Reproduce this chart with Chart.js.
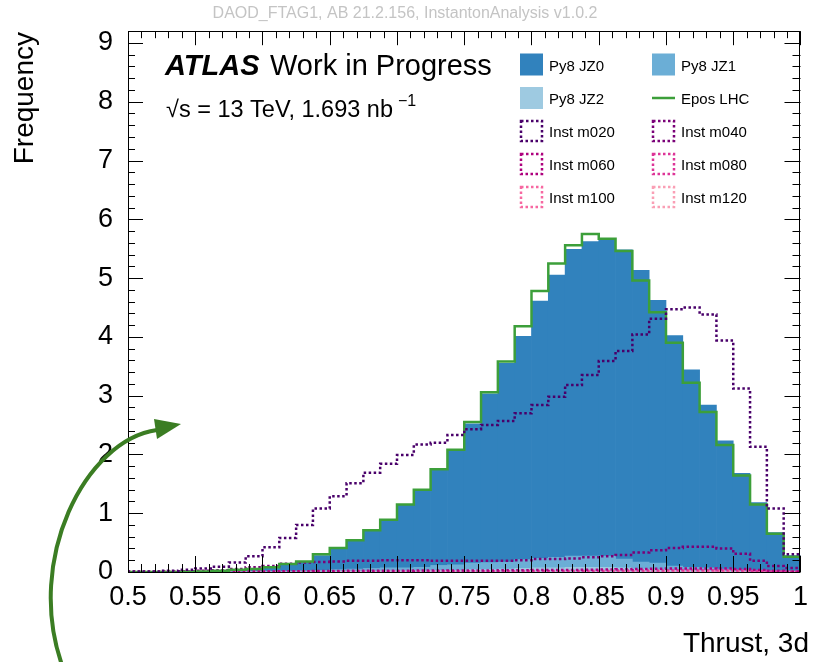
<!DOCTYPE html>
<html>
<head>
<meta charset="utf-8">
<title>Thrust, 3d</title>
<script src="https://cdn.jsdelivr.net/npm/chart.js@4.4.1/dist/chart.umd.min.js"></script>
<style>
html,body{margin:0;padding:0;background:#fff;}
#wrap{width:817px;height:662px;}
</style>
</head>
<body>
<div id="wrap"><canvas id="thrustChart" width="817" height="662"></canvas></div>
<script>

/* ============================= */
/* DATA */
/* ============================= */

const binWidth = 0.0125
const binEdges = Array.from({length:41},(_,i)=>+(0.5+i*binWidth).toFixed(4))

const xTickValues = [0.5,0.55,0.6,0.65,0.7,0.75,0.8,0.85,0.9,0.95,1]
const xTickLabels = ["0.5","0.55","0.6","0.65","0.7","0.75","0.8","0.85","0.9","0.95","1"]
const yTickValues = [0,1,2,3,4,5,6,7,8,9]

const py8JZ0 = [0,0,0,0.005,0.01,0.02,0.025,0.04,0.06,0.12,
0.15,0.25,0.36,0.48,0.64,0.81,1.07,1.31,1.62,1.94,
2.37,2.87,3.38,3.80,4.38,4.80,5.22,5.35,5.39,5.26,
4.96,4.47,3.92,3.36,2.77,2.18,1.65,1.16,0.66,0.27]

const py8JZ1 = [0,0,0,0,0,0,0.005,0.01,0.01,0.01,
0.02,0.03,0.03,0.04,0.05,0.05,0.05,0.06,0.08,0.09,
0.11,0.12,0.12,0.15,0.16,0.18,0.19,0.19,0.19,0.15,
0.12,0.11,0.07,0.06,0.05,0.04,0.02,0.01,0.01,0.01]

const py8JZ2 = [0,0,0,0,0,0,0,0,0,0,
0,0,0.01,0.01,0.01,0.02,0.02,0.02,0.03,0.03,
0.04,0.04,0.05,0.06,0.07,0.07,0.08,0.08,0.08,0.07,
0.05,0.04,0.03,0.02,0.02,0.01,0.01,0.01,0,0]

const eposLHC = [0,0,0,0.005,0.01,0.02,0.04,0.05,0.08,0.135,
0.18,0.30,0.41,0.54,0.71,0.89,1.15,1.40,1.75,2.08,
2.55,3.06,3.58,4.18,4.78,5.25,5.56,5.75,5.67,5.46,
4.96,4.42,3.90,3.22,2.72,2.16,1.64,1.15,0.65,0.26]

const instM020 = [0.01,0.01,0.02,0.04,0.06,0.09,0.16,0.27,0.42,0.58,
0.80,1.08,1.29,1.51,1.69,1.84,1.99,2.17,2.20,2.33,
2.43,2.50,2.57,2.70,2.84,2.98,3.18,3.35,3.59,3.76,
4.04,4.31,4.47,4.50,4.38,3.94,3.12,2.13,1.08,0.30]

const instM040 = [0,0,0.005,0.01,0.02,0.03,0.05,0.08,0.10,0.14,
0.16,0.17,0.18,0.19,0.19,0.20,0.20,0.20,0.19,0.19,
0.19,0.19,0.19,0.20,0.22,0.22,0.23,0.25,0.27,0.29,
0.33,0.37,0.41,0.43,0.43,0.40,0.31,0.19,0.10,0.07]

const instM060 = [0,0,0,0,0.002,0.004,0.006,0.008,0.01,0.012,
0.014,0.016,0.018,0.02,0.02,0.022,0.022,0.024,0.024,0.025,
0.026,0.027,0.028,0.03,0.032,0.034,0.036,0.04,0.043,0.047,
0.05,0.054,0.058,0.06,0.06,0.058,0.05,0.035,0.02,0.01]

const instM080 = [0,0,0,0,0,0.002,0.003,0.004,0.005,0.006,
0.007,0.008,0.009,0.01,0.01,0.011,0.011,0.012,0.012,0.013,
0.013,0.014,0.014,0.015,0.016,0.017,0.018,0.02,0.022,0.024,
0.025,0.027,0.029,0.03,0.03,0.029,0.025,0.018,0.01,0.005]

const instM100 = [0,0,0,0,0,0,0.001,0.002,0.002,0.003,
0.003,0.004,0.004,0.005,0.005,0.005,0.006,0.006,0.006,0.006,
0.007,0.007,0.007,0.008,0.008,0.008,0.009,0.01,0.011,0.012,
0.012,0.013,0.014,0.015,0.015,0.014,0.012,0.009,0.005,0.002]

const instM120 = [0,0,0,0,0,0,0,0.001,0.001,0.001,
0.002,0.002,0.002,0.002,0.003,0.003,0.003,0.003,0.003,0.003,
0.003,0.004,0.004,0.004,0.004,0.004,0.005,0.005,0.005,0.006,
0.006,0.006,0.007,0.007,0.007,0.007,0.006,0.004,0.002,0.001]

const FONT = '"Liberation Sans", Arial, Helvetica, sans-serif'

const colJZ0 = "#3182bd"
const colJZ1 = "#6baed6"
const colJZ2 = "#9ecae1"
const colEpos = "#3c9f3a"
const colInst = ["#49006a","#7a0177","#ae017e","#dd3497","#f768a1","#fa9fb5"]


/* ============================= */
/* HELPERS */
/* ============================= */

// bars sit on bin centres
function barPoints(vals){
return vals.map((v,i)=>({x:binEdges[i]+binWidth/2,y:v}))
}

// step outline: one point per low edge, closed at x=1
function stepPoints(vals){
const pts=[{x:binEdges[0],y:0}]
vals.forEach((v,i)=>pts.push({x:binEdges[i],y:v}))
pts.push({x:binEdges[40],y:vals[vals.length-1]})
pts.push({x:binEdges[40],y:0})
return pts
}

function stackBar(label,vals,color){
return {type:"bar",label:label,data:barPoints(vals),backgroundColor:color,
borderWidth:0,barPercentage:1,categoryPercentage:1,stack:"mc",order:2}
}

function stepLine(label,vals,color,dotted){
return {type:"line",label:label,data:stepPoints(vals),borderColor:color,
borderWidth:2.5,borderDash:dotted?[2.5,2.5]:[],stepped:"before",
pointRadius:0,fill:false,stack:label,order:1}
}


/* ============================= */
/* LEGEND */
/* ============================= */

const legendItems = [
{label:"Py8 JZ0",kind:"fill",color:colJZ0},
{label:"Py8 JZ1",kind:"fill",color:colJZ1},
{label:"Py8 JZ2",kind:"fill",color:colJZ2},
{label:"Epos LHC",kind:"line",color:colEpos},
{label:"Inst m020",kind:"dot",color:colInst[0]},
{label:"Inst m040",kind:"dot",color:colInst[1]},
{label:"Inst m060",kind:"dot",color:colInst[2]},
{label:"Inst m080",kind:"dot",color:colInst[3]},
{label:"Inst m100",kind:"dot",color:colInst[4]},
{label:"Inst m120",kind:"dot",color:colInst[5]}
]

const legendPlugin = {
id:"rootLegend",
afterDraw(chart){
const ctx=chart.ctx
const colX=[520,652]
const rowY=[64.5,98,131,164,197]
ctx.save()
legendItems.forEach((it,k)=>{
const x=colX[k%2], y=rowY[Math.floor(k/2)]
if(it.kind==="fill"){
ctx.fillStyle=it.color
ctx.fillRect(x,y-11,23,22)
}else if(it.kind==="line"){
ctx.strokeStyle=it.color
ctx.lineWidth=2.5
ctx.setLineDash([])
ctx.beginPath();ctx.moveTo(x,y);ctx.lineTo(x+23,y);ctx.stroke()
}else{
ctx.strokeStyle=it.color
ctx.lineWidth=2.5
ctx.setLineDash([2.5,2.5])
ctx.strokeRect(x+1,y-10,21,20)
ctx.setLineDash([])
}
ctx.fillStyle="#000"
ctx.font="15px "+FONT
ctx.textAlign="left"
ctx.textBaseline="alphabetic"
ctx.fillText(it.label,x+29,y+6)
})
ctx.restore()
}
}


/* ============================= */
/* FRAME + ROOT STYLE TICKS */
/* ============================= */

const framePlugin = {
id:"rootFrame",
afterDatasetsDraw(chart){
const ctx=chart.ctx
const a=chart.chartArea
const xs=chart.scales.x, ys=chart.scales.y
ctx.save()
ctx.strokeStyle="#000"
ctx.lineWidth=1
ctx.beginPath()
// x ticks, every 0.01, long every 0.05
for(let k=0;k<=50;k++){
const px=Math.round(xs.getPixelForValue(0.5+k*0.01))+0.5
const major=k%5===0
ctx.moveTo(px,a.bottom);ctx.lineTo(px,a.bottom-(major?16:8))
ctx.moveTo(px,a.top);ctx.lineTo(px,a.top+(major?14:7))
}
// y ticks, every 0.2, long every 1
for(let k=0;k<=46;k++){
const py=Math.round(ys.getPixelForValue(k*0.2))+0.5
const major=k%5===0
ctx.moveTo(a.left,py);ctx.lineTo(a.left+(major?15:7),py)
ctx.moveTo(a.right,py);ctx.lineTo(a.right-(major?16:8),py)
}
ctx.stroke()
ctx.strokeRect(Math.round(a.left)+0.5,Math.round(a.top)+0.5,Math.round(a.right-a.left)-1,Math.round(a.bottom-a.top))
ctx.restore()
}
}


/* ============================= */
/* LABELS + ARROW */
/* ============================= */

const textPlugin = {
id:"rootText",
afterDraw(chart){
const ctx=chart.ctx
ctx.save()
ctx.textBaseline="alphabetic"

// production tag
ctx.fillStyle="#c4c4c4"
ctx.font="16px "+FONT
ctx.textAlign="center"
ctx.fillText("DAOD_FTAG1, AB 21.2.156, InstantonAnalysis v1.0.2",405,18)

// ATLAS label
ctx.fillStyle="#000"
ctx.textAlign="left"
ctx.font="italic bold 29px "+FONT
ctx.fillText("ATLAS",165,75)
ctx.font="29px "+FONT
ctx.fillText("Work in Progress",270,75)

ctx.font="23.5px "+FONT
ctx.fillText("\u221As = 13 TeV, 1.693 nb",166,117)
const w=ctx.measureText("\u221As = 13 TeV, 1.693 nb").width
ctx.font="16px "+FONT
ctx.fillText("\u22121",166+w+5,106)

// axis titles
ctx.font="28px "+FONT
ctx.textAlign="right"
ctx.fillText("Thrust, 3d",809,652)
ctx.save()
ctx.translate(33,32)
ctx.rotate(-Math.PI/2)
ctx.fillText("Frequency",0,0)
ctx.restore()

// curved arrow
ctx.strokeStyle="#3b7d23"
ctx.fillStyle="#3b7d23"
ctx.lineWidth=4
ctx.beginPath()
ctx.moveTo(62,665)
ctx.bezierCurveTo(25,560,85,440,157,430)
ctx.stroke()
ctx.beginPath()
ctx.moveTo(181,424)
ctx.lineTo(154,419)
ctx.lineTo(157,439)
ctx.closePath()
ctx.fill()
ctx.restore()
}
}


/* ============================= */
/* CHART */
/* ============================= */

const thrustChart = new Chart(
document.getElementById("thrustChart"),
{
data:{
datasets:[
stepLine("Inst m020",instM020,colInst[0],true),
stepLine("Epos LHC",eposLHC,colEpos,false),
stepLine("Inst m040",instM040,colInst[1],true),
stepLine("Inst m060",instM060,colInst[2],true),
stepLine("Inst m080",instM080,colInst[3],true),
stepLine("Inst m100",instM100,colInst[4],true),
stepLine("Inst m120",instM120,colInst[5],true),
stackBar("Py8 JZ2",py8JZ2,colJZ2),
stackBar("Py8 JZ1",py8JZ1,colJZ1),
stackBar("Py8 JZ0",py8JZ0,colJZ0)
]
},

options:{
animation:false,
responsive:false,
devicePixelRatio:1,
layout:{padding:{top:28,right:6,left:0,bottom:0}},
plugins:{legend:{display:false},tooltip:{enabled:false}},

scales:{
x:{
type:"linear",
min:0.5,
max:1,
offset:false,
grid:{display:false,drawTicks:false},
border:{display:false},
afterBuildTicks:s=>{s.ticks=xTickValues.map(v=>({value:v}))},
afterFit:s=>{s.height=90},
ticks:{
autoSkip:false,
maxRotation:0,
padding:9,
color:"#000",
font:{family:FONT,size:27},
callback:(v)=>xTickLabels[xTickValues.indexOf(v)]
}
},
y:{
stacked:true,
min:0,
max:9.2,
grid:{display:false,drawTicks:false},
border:{display:false},
afterBuildTicks:s=>{s.ticks=yTickValues.map(v=>({value:v}))},
afterFit:s=>{s.width=128},
ticks:{
padding:15,
color:"#000",
font:{family:FONT,size:27},
callback:(v)=>String(v)
}
}
}
},
plugins:[framePlugin,legendPlugin,textPlugin]
});

</script>
</body>
</html>
